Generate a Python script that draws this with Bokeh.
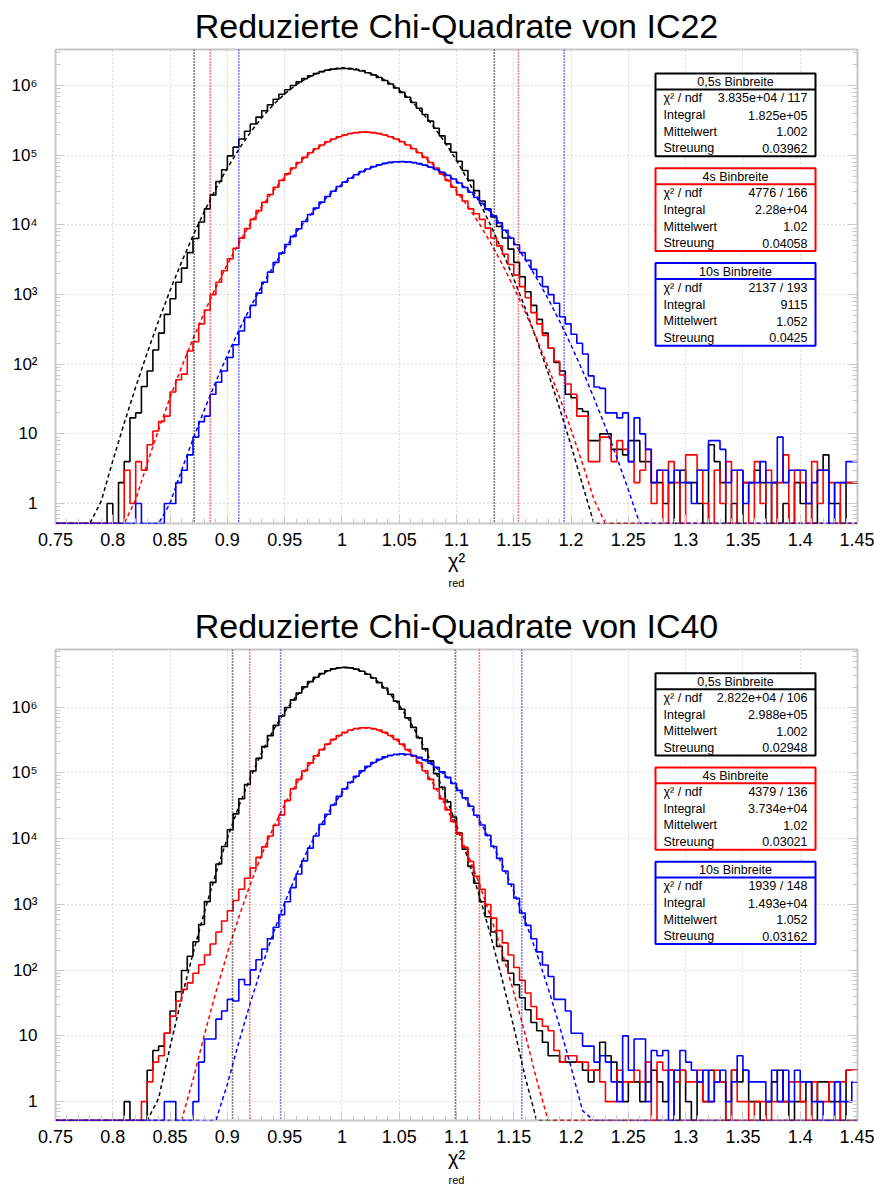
import math
from bokeh.plotting import figure
from bokeh.models import FixedTicker, LogAxis, Span, Title
from bokeh.layouts import column
from bokeh.embed import file_html
from bokeh.resources import INLINE
from bokeh.core.properties import value

# ---------------- data ----------------
X_MIN, X_MAX = 0.75, 1.45
BIN_WIDTH = 0.005
X_TICKS = [0.75, 0.8, 0.85, 0.9, 0.95, 1.0, 1.05, 1.1, 1.15, 1.2, 1.25, 1.3, 1.35, 1.4, 1.45]
X_TICK_LABELS = ["0.75", "0.8", "0.85", "0.9", "0.95", "1", "1.05", "1.1", "1.15", "1.2",
                 "1.25", "1.3", "1.35", "1.4", "1.45"]
Y_TICKS = [1, 10, 100, 1000, 10000, 100000, 1000000]
Y_TICK_LABELS = ["1", "10", "10\u00b2", "10\u00b3", "10\u2074", "10\u2075", "10\u2076"]

SERIES = ["0,5s Binbreite", "4s Binbreite", "10s Binbreite"]
COLORS = ["#000000", "#ff0000", "#0000ff"]
ROW_LABELS = ["\u03c7\u00b2 / ndf", "Integral", "Mittelwert", "Streuung"]

TITLES = ["Reduzierte Chi-Quadrate von IC22", "Reduzierte Chi-Quadrate von IC40"]
X_LABEL = "\u03c7\u00b2"
X_LABEL_SUB = "red"

# histogram contents, bins of 0.005 starting at 0.75 (140 bins)
IC22_05S = [0, 0, 0, 0, 0, 0, 0, 0, 0, 1,
            0, 2, 4, 17, 20, 48, 80, 160, 280, 520,
            870, 1500, 2400, 4000, 6400, 11000, 17000, 27000, 42000, 62000,
            98000, 130700, 171300, 221200, 281600, 352900, 435900, 530500, 635900, 751200,
            874200, 1002500, 1132600, 1260500, 1382300, 1493400, 1589600, 1667100, 1722500, 1753600,
            1758800, 1738000, 1692000, 1623000, 1533800, 1428200, 1310100, 1184100, 1054400, 925100,
            799600, 681000, 571500, 472400, 384700, 308700, 244100, 190100, 145900, 110300,
            82200, 60300, 43600, 31100, 22000, 17000, 13000, 9500, 6500, 4500,
            2900, 1800, 1100, 700, 440, 280, 170, 106, 80, 37,
            33, 23, 21, 8, 8, 10, 10, 6, 6, 5,
            8, 8, 4, 4, 2, 2, 1, 2, 0, 3,
            2, 2, 1, 0, 7, 4, 2, 0, 1, 0,
            2, 2, 3, 2, 0, 2, 0, 1, 0, 2,
            1, 1, 0, 3, 5, 1, 1, 0, 2, 2]
IC22_4S = [0, 0, 0, 0, 0, 0, 0, 0, 0, 0,
           0, 0, 3, 1, 4, 3, 7, 11, 15, 18,
           40, 60, 72, 155, 210, 380, 600, 1000, 1500, 2200,
           3264, 4625, 6461, 8880, 12030, 16045, 21070, 27290, 34770, 43660,
           53980, 65750, 78860, 93190, 108450, 124300, 140300, 156000, 170900, 184400,
           195900, 205000, 211400, 214600, 214600, 211400, 205000, 195900, 184400, 170900,
           156000, 140300, 124300, 108450, 93190, 78860, 65750, 53980, 43660, 34770,
           27000, 22000, 17000, 14500, 12000, 9000, 6500, 5000, 3800, 2700,
           1900, 1300, 900, 550, 380, 260, 170, 110, 70, 52,
           37, 18, 18, 4, 4, 9, 9, 4, 8, 6,
           4, 2, 3, 6, 1, 3, 0, 4, 2, 0,
           5, 5, 3, 1, 0, 3, 1, 4, 0, 3,
           2, 0, 4, 1, 3, 0, 2, 5, 0, 3,
           2, 0, 4, 1, 3, 2, 0, 2, 2, 2]
IC22_10S = [0, 0, 0, 0, 0, 0, 0, 0, 0, 0,
            0, 0, 0, 0, 1, 0, 0, 0, 0, 1,
            1, 2, 3, 5, 9, 15, 18, 37, 55, 80,
            125, 190, 300, 470, 700, 1050, 1500, 2100, 2900, 3941,
            5226, 6839, 8824, 11220, 14080, 17430, 21270, 25600, 30400, 35600,
            41110, 46820, 52590, 58260, 63670, 68600, 72910, 76420, 79000, 80550,
            81000, 80330, 78570, 75790, 72110, 67660, 62610, 57150, 51440, 45670,
            39980, 34530, 29400, 24700, 20460, 16720, 13470, 10710, 8392, 6487,
            5200, 4000, 3100, 2300, 1800, 1300, 1000, 750, 480, 380,
            270, 200, 140, 68, 47, 45, 20, 20, 17, 20,
            4, 17, 10, 6, 2, 3, 3, 2, 3, 2,
            2, 1, 3, 3, 8, 8, 6, 2, 3, 3,
            1, 2, 2, 4, 2, 2, 9, 2, 3, 3,
            3, 1, 2, 3, 3, 0, 2, 2, 4, 4]
IC40_05S = [0, 0, 0, 0, 0, 0, 0, 0, 0, 0,
            0, 0, 1, 0, 0, 0, 3, 6, 7, 11,
            24, 47, 99, 163, 271, 496, 1105, 2163, 4113, 7610,
            13680, 23870, 40520, 66820, 107000, 166500, 251800, 370200, 528600, 733400,
            988600, 1294800, 1648500, 2038600, 2450300, 2861500, 3247000, 3580000, 3836000, 3993000,
            4039000, 3970000, 3792000, 3519000, 3173000, 2781000, 2368000, 1958000, 1574000, 1230000,
            933600, 688400, 493300, 343400, 232300, 152700, 97570, 60600, 36530, 21400,
            12190, 6900, 3800, 2100, 1100, 650, 380, 230, 140, 90,
            60, 38, 25, 16, 12, 8, 5, 5, 4, 4,
            4, 4, 3, 2, 3, 8, 5, 4, 2, 1,
            2, 2, 1, 2, 3, 2, 1, 3, 0, 3,
            1, 0, 2, 1, 3, 2, 2, 0, 3, 2,
            3, 1, 1, 0, 1, 2, 3, 1, 0, 1,
            1, 2, 0, 2, 2, 1, 1, 0, 3, 3]
IC40_4S = [0, 0, 0, 0, 0, 0, 0, 0, 0, 0,
           0, 0, 0, 0, 0, 1, 2, 4, 5, 11,
           20, 34, 51, 64, 90, 121, 170, 250, 380, 560,
           800, 1150, 1700, 2500, 3600, 5200, 7500, 11000, 16000, 23000,
           38000, 57600, 79970, 108100, 142200, 182000, 226700, 274600, 323700, 371300,
           414300, 449800, 475100, 488300, 488300, 475100, 449800, 414300, 371300, 323700,
           274600, 226700, 182000, 142200, 108100, 79970, 57600, 40300, 27400, 18200,
           11740, 7370, 4500, 2670, 1700, 1000, 620, 400, 260, 170,
           110, 70, 45, 28, 18, 14, 12, 6, 4, 5,
           5, 4, 4, 3, 3, 2, 1, 1, 3, 2,
           2, 3, 2, 4, 0, 4, 3, 3, 2, 3,
           2, 2, 3, 1, 1, 3, 2, 0, 3, 1,
           1, 0, 1, 1, 0, 1, 1, 1, 2, 2,
           1, 0, 2, 1, 1, 2, 0, 2, 3, 3]
IC40_10S = [0, 0, 0, 0, 0, 0, 0, 0, 0, 0,
            0, 0, 0, 0, 0, 0, 0, 0, 0, 1,
            1, 0, 0, 0, 1, 4, 9, 9, 18, 24,
            36, 34, 72, 60, 101, 144, 210, 300, 450, 700,
            1100, 1800, 2900, 4600, 7200, 11000, 16500, 23500, 32500, 44070,
            57180, 72330, 89270, 107400, 126100, 144400, 161200, 175500, 186400, 193000,
            195000, 192100, 184500, 172900, 158000, 140800, 122400, 103700, 85760, 69150,
            54390, 41710, 31200, 22760, 16190, 11240, 7596, 5014, 3227, 2026,
            1240, 741, 480, 300, 190, 120, 80, 36, 36, 24,
            11, 11, 7, 7, 4, 5, 4, 2, 1, 10,
            3, 9, 9, 1, 6, 5, 6, 0, 3, 6,
            4, 3, 2, 3, 1, 2, 3, 1, 2, 5,
            3, 2, 2, 2, 1, 3, 1, 3, 1, 3,
            2, 2, 1, 1, 0, 0, 2, 1, 1, 2]

# fitted curves, read at x = 0.75, 0.76, ..., 1.45
FIT_X = [round(0.75 + 0.01 * j, 2) for j in range(71)]
FIT_IC22_05S = [0, 0, 0, 0.27, 1.09, 4.1, 14.3, 47, 145, 421,
                1146, 2925, 7000, 15720, 33100, 65500, 121500, 211500, 345300, 529000,
                760700, 1026000, 1299000, 1543000, 1719000, 1798000, 1764000, 1623000, 1402000, 1136000,
                864000, 616500, 412700, 259200, 152700, 84460, 43830, 21350, 9743, 4174,
                1678, 634, 224, 74.7, 23.3, 6.8, 1.86, 0.48, 0.12, 0,
                0, 0, 0, 0, 0, 0, 0, 0, 0, 0, 0, 0, 0, 0, 0, 0, 0, 0, 0, 0, 0]
FIT_IC22_4S = [0, 0, 0, 0, 0, 0.089, 0.33, 1.14, 3.74, 11.5,
               33.2, 90.5, 232, 559, 1270, 2716, 5455, 10330, 18390, 30790,
               48570, 72070, 100600, 132300, 163600, 190400, 208600, 215000, 208600, 190400,
               163600, 132300, 100600, 72070, 48570, 30790, 18390, 10330, 5455, 2716,
               1270, 559, 232, 90.5, 33.2, 11.5, 3.74, 1.14, 0.33, 0.089,
               0, 0, 0, 0, 0, 0, 0, 0, 0, 0, 0, 0, 0, 0, 0, 0, 0, 0, 0, 0, 0]
FIT_IC22_10S = [0, 0, 0, 0, 0, 0, 0, 0, 0, 0.32,
                1.01, 2.99, 8.4, 22.4, 56.6, 135, 305, 651, 1316, 2515,
                4547, 7778, 12590, 19290, 27950, 38320, 49710, 61010, 70840, 77830,
                80910, 79580, 74050, 65200, 54310, 42800, 31920, 22520, 15030, 9493,
                5673, 3209, 1716, 868, 416, 188, 80.8, 32.7, 12.6, 4.56,
                1.57, 0.51, 0.16, 0, 0, 0, 0, 0, 0, 0, 0, 0, 0, 0, 0, 0, 0, 0, 0, 0, 0]
FIT_IC40_05S = [0, 0, 0, 0, 0, 0, 0, 0, 0.16, 1.12,
                6.8, 37.1, 179, 774, 2973, 10180, 31090, 84600, 205200, 443500,
                854600, 1468000, 2247000, 3066000, 3728000, 4041000, 3904000, 3361000, 2579000, 1765000,
                1076000, 584400, 283200, 122200, 47060, 16130, 4933, 1345, 327, 70.6,
                13.6, 2.34, 0.36, 0, 0, 0, 0, 0, 0, 0,
                0, 0, 0, 0, 0, 0, 0, 0, 0, 0, 0, 0, 0, 0, 0, 0, 0, 0, 0, 0, 0]
FIT_IC40_4S = [0, 0, 0, 0, 0, 0, 0, 0, 0, 0,
               0, 0.39, 2.15, 10.5, 46.2, 182, 641, 2026, 5737, 14550,
               33110, 67460, 123300, 201900, 296200, 389600, 459100, 485000, 459100, 389600,
               296200, 201900, 123300, 67460, 33110, 14550, 5737, 2026, 641, 182,
               46.2, 10.5, 2.15, 0.39, 0, 0, 0, 0, 0, 0,
               0, 0, 0, 0, 0, 0, 0, 0, 0, 0, 0, 0, 0, 0, 0, 0, 0, 0, 0, 0, 0]
FIT_IC40_10S = [0, 0, 0, 0, 0, 0, 0, 0, 0, 0,
                0, 0, 0, 0.072, 0.38, 1.84, 8.0, 31.6, 112, 362,
                1057, 2788, 6653, 14370, 28090, 49670, 79470, 115100, 150700, 178700,
                191600, 186000, 163300, 129700, 93250, 60650, 35710, 19020, 9160, 3996,
                1576, 562, 181, 53.1, 14.0, 3.35, 0.73, 0.14, 0, 0,
                0, 0, 0, 0, 0, 0, 0, 0, 0, 0, 0, 0, 0, 0, 0, 0, 0, 0, 0, 0, 0]

# mean -/+ 3.3 sigma markers (dotted)
CUTS_IC22 = [(0.871, 1.133), (0.885, 1.154), (0.910, 1.194)]
CUTS_IC40 = [(0.9045, 1.099), (0.9195, 1.120), (0.9465, 1.157)]

STATS_IC22 = [("3.835e+04 / 117", "1.825e+05", "1.002", "0.03962"),
              ("4776 / 166", "2.28e+04", "1.02", "0.04058"),
              ("2137 / 193", "9115", "1.052", "0.0425")]
STATS_IC40 = [("2.822e+04 / 106", "2.988e+05", "1.002", "0.02948"),
              ("4379 / 136", "3.734e+04", "1.02", "0.03021"),
              ("1939 / 148", "1.493e+04", "1.052", "0.03162")]

# ---------------- styling / layout ----------------
FONT = "Liberation Sans"
FRAME_W, FRAME_H = 802, 475
Y_LO = 0.517
Y_HI = [3.30e6, 7.55e6]
GRID_COLOR = "#bdbdbd"
FRAME_COLOR = "#c8c8c8"


def make_panel(title, hists, fits, cuts, stats, y_hi, height, border_top, border_bottom):
    p = figure(width=874, height=height, x_range=(X_MIN, X_MAX), y_range=(Y_LO, y_hi),
               y_axis_type="log", output_backend="svg", toolbar_location=None,
               min_border_left=55, min_border_right=17, min_border_top=border_top,
               min_border_bottom=border_bottom, title=title)
    p.title.align = "center"
    p.title.text_font = FONT
    p.title.text_font_size = "34px"
    p.title.text_font_style = "normal"
    p.title.text_color = "black"
    p.title.standoff = 9
    p.outline_line_color = FRAME_COLOR
    p.outline_line_width = 2
    p.background_fill_color = "white"
    p.border_fill_color = "white"

    ly0, ly1 = math.log10(Y_LO), math.log10(y_hi)

    def dx(px):  # pixels from frame left -> data x
        return X_MIN + px / FRAME_W * (X_MAX - X_MIN)

    def dy(py):  # pixels from frame top -> data y
        return 10 ** (ly1 - py / FRAME_H * (ly1 - ly0))

    # ticks / grids
    xt = FixedTicker(ticks=X_TICKS, minor_ticks=[round(X_MIN + 0.01 * i, 2) for i in range(71)])
    minor_y = [m * 10 ** k for k in range(-1, 7) for m in range(2, 10)]
    yt = FixedTicker(ticks=Y_TICKS, minor_ticks=minor_y)
    p.xaxis.ticker = xt
    p.yaxis.ticker = yt
    p.xgrid.ticker = xt
    p.ygrid.ticker = yt
    for g in (p.xgrid[0], p.ygrid[0]):
        g.grid_line_color = GRID_COLOR
        g.grid_line_dash = "1 3"
        g.grid_line_width = 1
    p.xgrid.minor_grid_line_color = None
    p.ygrid.minor_grid_line_color = None

    xa = p.xaxis[0]
    xa.major_label_overrides = dict(zip(X_TICKS, X_TICK_LABELS))
    ya = p.yaxis[0]
    ya.major_label_overrides = dict(zip(Y_TICKS, Y_TICK_LABELS))
    for ax, size, standoff in ((xa, "18px", 9), (ya, "17px", 18)):
        ax.axis_line_color = None
        ax.major_tick_in = 9
        ax.major_tick_out = 0
        ax.minor_tick_in = 5
        ax.minor_tick_out = 0
        ax.major_tick_line_color = FRAME_COLOR
        ax.minor_tick_line_color = FRAME_COLOR
        ax.major_label_text_font = FONT
        ax.major_label_text_font_size = size
        ax.major_label_text_color = "black"
        ax.major_label_standoff = standoff

    xa.axis_label = X_LABEL
    xa.axis_label_text_font = FONT
    xa.axis_label_text_font_size = "20px"
    xa.axis_label_text_font_style = "normal"
    xa.axis_label_text_color = "black"
    xa.axis_label_standoff = 1
    p.add_layout(Title(text=X_LABEL_SUB, align="center", offset=8, standoff=0,
                       text_font=FONT, text_font_size="11px", text_font_style="normal",
                       text_color="black"), "below")

    ra = LogAxis(ticker=yt, major_label_overrides={t: "" for t in Y_TICKS},
                 axis_line_color=None, major_tick_in=9, major_tick_out=0,
                 minor_tick_in=5, minor_tick_out=0, major_label_standoff=0,
                 major_label_text_font_size="1px",
                 major_tick_line_color=FRAME_COLOR, minor_tick_line_color=FRAME_COLOR)
    p.add_layout(ra, "right")

    # histograms and fits
    for vals, fit, col in zip(hists, fits, COLORS):
        edges = [X_MIN + BIN_WIDTH * i for i in range(len(vals) + 1)]
        ys = [max(v, Y_LO) for v in vals]
        ys.append(ys[-1])
        p.step(edges, ys, mode="after", line_color=col, line_width=1.6)
        fy = [max(v, Y_LO) for v in fit]
        p.line(FIT_X, fy, line_color=col, line_width=1.5, line_dash="4 3")

    # cut markers
    for (lo, hi), col in zip(cuts, COLORS):
        for loc in (lo, hi):
            p.add_layout(Span(location=loc, dimension="height", line_color=col,
                              line_width=1.6, line_dash="1 2"))

    # stat boxes
    box_l, box_r = 600, 760
    for k, (st, name, col) in enumerate(zip(stats, SERIES, COLORS)):
        top = 24 + 95 * k
        div = top + 16
        bot = top + 83
        r = p.quad(left=[dx(box_l)], right=[dx(box_r)], top=[dy(top)], bottom=[dy(bot)],
                   fill_color="white", line_color=col, line_width=2)
        r.level = "overlay"
        s = p.segment(x0=[dx(box_l)], x1=[dx(box_r)], y0=[dy(div)], y1=[dy(div)],
                      line_color=col, line_width=2)
        s.level = "overlay"
        t = p.text(x=[dx((box_l + box_r) / 2)], y=[dy(top + 8.5)], text=[name],
                   text_font=value(FONT), text_font_size="12.5px", text_align="center",
                   text_baseline="middle", text_color="black")
        t.level = "overlay"
        rows_y = [dy(div + 9 + 16.7 * j) for j in range(4)]
        t1 = p.text(x=[dx(box_l + 8)] * 4, y=rows_y, text=ROW_LABELS,
                    text_font=value(FONT), text_font_size="12.5px", text_align="left",
                    text_baseline="middle", text_color="black")
        t1.level = "overlay"
        t2 = p.text(x=[dx(box_r - 8)] * 4, y=rows_y, text=list(st),
                    text_font=value(FONT), text_font_size="12.5px", text_align="right",
                    text_baseline="middle", text_color="black")
        t2.level = "overlay"
    return p


p1 = make_panel(TITLES[0], [IC22_05S, IC22_4S, IC22_10S],
                [FIT_IC22_05S, FIT_IC22_4S, FIT_IC22_10S], CUTS_IC22, STATS_IC22,
                Y_HI[0], 600, 48, 77)
p2 = make_panel(TITLES[1], [IC40_05S, IC40_4S, IC40_10S],
                [FIT_IC40_05S, FIT_IC40_4S, FIT_IC40_10S], CUTS_IC40, STATS_IC40,
                Y_HI[1], 585, 47, 63)

layout = column(p1, p2)
open("out.html", "w").write(file_html(layout, INLINE, "Reduzierte Chi-Quadrate"))
